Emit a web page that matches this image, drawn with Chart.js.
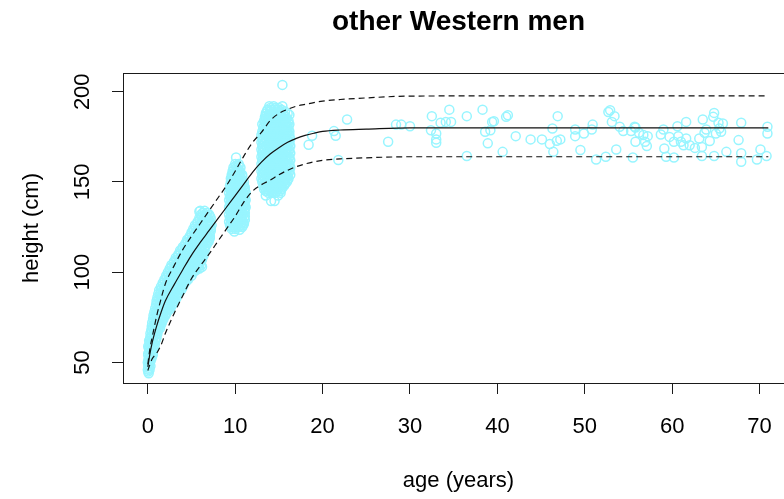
<!DOCTYPE html>
<html>
<head>
<meta charset="utf-8">
<title>other Western men</title>
<script src="https://cdn.jsdelivr.net/npm/chart.js@4.4.0/dist/chart.umd.min.js"></script>
<style>
  html, body { margin: 0; padding: 0; overflow: hidden; background: #fff; }
</style>
</head>
<body>
<canvas id="growthChart" width="800" height="499"></canvas>
<script>
const ageTicks = [0, 10, 20, 30, 40, 50, 60, 70];
const heightTicks = [50, 100, 150, 200];

// reference curves (median and the two dashed limits)
const curveAges = [0, 0.25, 0.5, 1, 1.5, 2, 3, 4, 5, 6, 7, 8, 9, 10, 11, 12, 13, 14, 15, 16, 17, 18, 19, 20, 22, 25, 30, 40, 50, 60, 71];
const medianHeights = [47.5, 55, 61, 70, 77.5, 84, 93, 101.4, 109.5, 116.5, 123, 129.5, 136, 142.5, 149, 155.5, 161, 165.5, 169, 172, 174.2, 175.8, 177, 178, 178.8, 179.3, 180, 180, 180, 180, 180];
const upperHeights = [49, 58, 64, 75.5, 85, 93.5, 103.5, 112.5, 120, 127, 134, 141, 148, 156, 164.5, 172, 177.5, 184, 188, 190.3, 192, 193, 194, 194.8, 195.7, 196.6, 197.6, 197.7, 197.7, 197.7, 197.7];
const lowerHeights = [45.5, 49, 52, 55, 59.5, 66, 77, 87, 96.5, 103.5, 110, 117, 124, 131, 139, 145, 148.5, 151, 154, 156.5, 158.5, 160, 161.2, 162, 162.8, 163.4, 164, 164, 164, 164, 164];

// observations, grouped by height (cm) with the ages (years) seen at it
const infantRows = [
  [44, [0.1]], [45, [0.05]], [46, [0.0, 0.2]], [47, [0.15]], [48, [0.05, 0.3]], [49, [0.15]],
  [50, [0.0, 0.25]], [51, [0.05, 0.3]], [52, [0.1, 0.4]], [53, [0.2, 0.45]], [54, [0.05, 0.35, 0.55]],
  [55, [0.05, 0.3, 0.55]], [56, [0.15, 0.45]], [57, [0.25, 0.6]], [58, [0.1, 0.4, 0.7]], [59, [0.05, 0.3, 0.65]],
  [60, [0.2, 0.5, 0.8]], [61, [0.3, 0.65]], [62, [0.15, 0.45, 0.85]], [63, [0.25, 0.6, 0.95]],
  [64, [0.3, 0.65, 1.0]], [65, [0.45, 0.85]], [66, [0.3, 0.7, 1.1]], [67, [0.5, 0.95]], [68, [0.4, 0.8, 1.2]],
  [69, [0.6, 1.0, 1.4]], [70, [0.45, 0.9, 1.35]], [71, [0.7, 1.15, 1.5]], [72, [0.5, 0.95, 1.4, 1.6]],
  [73, [0.75, 1.2, 1.65]], [74, [0.6, 1.0, 1.5, 1.8]], [75, [0.85, 1.3, 1.75]], [76, [0.65, 1.1, 1.6, 2.0]],
  [77, [0.9, 1.35, 1.8, 2.1]], [78, [0.75, 1.2, 1.7, 2.2]], [79, [1.0, 1.45, 1.95, 2.4]],
  [80, [0.85, 1.3, 1.8, 2.3, 2.6]], [81, [1.1, 1.55, 2.05, 2.5]], [82, [0.95, 1.4, 1.9, 2.4, 2.8]],
  [83, [1.2, 1.65, 2.15, 2.6, 3.0]], [84, [1.0, 1.5, 2.0, 2.5, 3.0]], [85, [1.3, 1.8, 2.3, 2.8, 3.2]],
  [86, [1.1, 1.55, 2.05, 2.55, 3.0, 3.3]], [87, [1.4, 1.9, 2.4, 2.9, 3.35]],
  [88, [1.2, 1.7, 2.2, 2.7, 3.2, 3.5]], [89, [1.5, 2.0, 2.5, 3.0, 3.5]],
  [90, [1.3, 1.8, 2.3, 2.8, 3.3, 3.8]], [91, [1.6, 2.1, 2.6, 3.1, 3.6, 3.9]],
  [92, [1.5, 2.0, 2.5, 3.0, 3.5, 4.0]], [93, [1.75, 2.25, 2.75, 3.25, 3.75, 4.1]],
  [94, [1.7, 2.2, 2.7, 3.2, 3.7, 4.2]], [95, [1.95, 2.45, 2.95, 3.45, 3.95, 4.4]],
  [96, [1.9, 2.4, 2.9, 3.4, 3.9, 4.4, 4.6]], [97, [2.15, 2.65, 3.15, 3.65, 4.15, 4.6]],
  [98, [2.1, 2.6, 3.1, 3.6, 4.1, 4.6, 5.0]], [99, [2.35, 2.85, 3.35, 3.85, 4.35, 4.85]],
  [100, [2.3, 2.8, 3.3, 3.8, 4.3, 4.8, 5.2]], [101, [2.55, 3.05, 3.55, 4.05, 4.55, 5.05, 5.5]],
  [102, [2.5, 3.0, 3.5, 4.0, 4.5, 5.0, 5.5, 5.9]], [103, [2.75, 3.25, 3.75, 4.25, 4.75, 5.25, 5.75, 6.2]],
  [104, [2.7, 3.2, 3.7, 4.2, 4.7, 5.2, 5.7, 6.1]], [105, [2.95, 3.45, 3.95, 4.45, 4.95, 5.45, 5.95]],
  [106, [3.0, 3.5, 4.0, 4.5, 5.0, 5.5, 6.0]], [107, [3.25, 3.75, 4.25, 4.75, 5.25, 5.75, 6.2]],
  [108, [3.2, 3.7, 4.2, 4.7, 5.2, 5.7, 6.2]], [109, [3.45, 3.95, 4.45, 4.95, 5.45, 5.95, 6.35]],
  [110, [3.5, 4.0, 4.5, 5.0, 5.5, 6.0, 6.4]], [111, [3.75, 4.25, 4.75, 5.25, 5.75, 6.25]],
  [112, [3.7, 4.2, 4.7, 5.2, 5.7, 6.2, 6.5]], [113, [3.95, 4.45, 4.95, 5.45, 5.95, 6.45]],
  [114, [4.0, 4.5, 5.0, 5.5, 6.0, 6.5]], [115, [4.25, 4.75, 5.25, 5.75, 6.25, 6.7]],
  [116, [4.3, 4.8, 5.3, 5.8, 6.3, 6.8]], [117, [4.55, 5.05, 5.55, 6.05, 6.55, 6.95]],
  [118, [4.5, 5.0, 5.5, 6.0, 6.5, 7.0]], [119, [4.75, 5.25, 5.75, 6.25, 6.75, 7.1]],
  [120, [4.8, 5.3, 5.8, 6.3, 6.8, 7.1]], [121, [5.05, 5.55, 6.05, 6.55, 7.05]],
  [122, [5.0, 5.5, 6.0, 6.5, 7.0]], [123, [5.25, 5.75, 6.25, 6.75, 7.2]],
  [124, [5.2, 5.7, 6.2, 6.7, 7.2]], [125, [5.45, 5.95, 6.45, 6.95]],
  [126, [5.4, 5.9, 6.4, 6.9, 7.3]], [127, [5.65, 6.15, 6.65, 7.15]],
  [128, [5.7, 6.2, 6.7, 7.1]], [129, [5.95, 6.45, 6.95]], [130, [5.9, 6.4, 6.9, 7.2]],
  [131, [6.15, 6.65, 7.1]], [132, [6.1, 6.6, 7.0]], [133, [6.3, 6.8]], [133.6, [5.9]], [134, [6.0, 6.5]]
];
const childRows = [
  [122.5, [9.9]], [123.5, [10.5]], [124, [9.6, 10.0]], [125, [9.6, 10.0, 10.4, 10.8]],
  [126, [9.4, 9.8, 10.2, 10.6, 10.9]], [127, [9.5, 9.9, 10.3, 10.7, 11.0]],
  [128, [9.3, 9.7, 10.1, 10.5, 10.9]], [129, [9.5, 9.9, 10.3, 10.7, 11.1]],
  [130, [9.4, 9.8, 10.2, 10.6, 11.0]], [131, [9.5, 9.9, 10.3, 10.7, 11.1]],
  [132, [9.3, 9.7, 10.1, 10.5, 10.9]], [133, [9.5, 9.9, 10.3, 10.7, 11.1]],
  [134, [9.4, 9.8, 10.2, 10.6, 11.0]], [135, [9.5, 9.9, 10.3, 10.7, 11.1]],
  [136, [9.3, 9.7, 10.1, 10.5, 10.9, 11.2]], [137, [9.5, 9.9, 10.3, 10.7, 11.1]],
  [138, [9.4, 9.8, 10.2, 10.6, 11.0]], [139, [9.5, 9.9, 10.3, 10.7, 11.1]],
  [140, [9.3, 9.7, 10.1, 10.5, 10.9, 11.2]], [141, [9.5, 9.9, 10.3, 10.7, 11.1]],
  [142, [9.4, 9.8, 10.2, 10.6, 11.0]], [143, [9.5, 9.9, 10.3, 10.7, 11.1]],
  [144, [9.3, 9.7, 10.1, 10.5, 10.9, 11.2]], [145, [9.5, 9.9, 10.3, 10.7, 11.1]],
  [146, [9.4, 9.8, 10.2, 10.6, 11.0]], [147, [9.5, 9.9, 10.3, 10.7, 11.1]],
  [148, [9.4, 9.8, 10.2, 10.6, 11.0]], [149, [9.6, 10.0, 10.4, 10.8]],
  [150, [9.5, 9.9, 10.3, 10.7, 11.0]], [151, [9.6, 10.0, 10.4, 10.8]],
  [152, [9.5, 9.9, 10.3, 10.7]], [153, [9.7, 10.1, 10.5, 10.8]],
  [154, [9.6, 10.0, 10.4, 10.8]], [155, [9.8, 10.2, 10.6]], [156, [9.7, 10.1, 10.5]],
  [157, [9.9, 10.3]], [158, [9.8, 10.2, 10.6]], [159, [10.1, 10.4]],
  [160, [10.0, 10.4]], [163.6, [10.1]]
];
const teenRows = [
  [139.5, [14.1, 14.5]], [142.5, [13.5, 14.9]], [144, [13.8, 14.2, 14.6, 15.2]],
  [145, [13.5, 13.9, 14.3, 14.7, 15.1]],
  [146, [13.3, 13.7, 14.1, 14.5, 14.9, 15.3]], [147, [13.4, 13.8, 14.2, 14.6, 15.0, 15.4]],
  [148, [13.2, 13.6, 14.0, 14.4, 14.8, 15.2, 15.6]], [149, [13.3, 13.7, 14.1, 14.5, 14.9, 15.3, 15.7]],
  [150, [13.1, 13.5, 13.9, 14.3, 14.7, 15.1, 15.5, 15.9]], [151, [13.2, 13.6, 14.0, 14.4, 14.8, 15.2, 15.6, 16.0]],
  [152, [13.0, 13.4, 13.8, 14.2, 14.6, 15.0, 15.4, 15.8, 16.1]], [153, [13.2, 13.6, 14.0, 14.4, 14.8, 15.2, 15.6, 16.0]],
  [154, [13.1, 13.5, 13.9, 14.3, 14.7, 15.1, 15.5, 15.9, 16.3]], [155, [13.2, 13.7, 14.1, 14.5, 14.9, 15.3, 15.7, 16.1]],
  [156, [13.0, 13.4, 13.8, 14.2, 14.6, 15.0, 15.4, 15.8, 16.2]], [157, [13.2, 13.6, 14.0, 14.4, 14.8, 15.2, 15.6, 16.0]],
  [158, [13.1, 13.5, 13.9, 14.3, 14.7, 15.1, 15.5, 15.9, 16.3]], [159, [13.2, 13.7, 14.1, 14.5, 14.9, 15.3, 15.7, 16.1]],
  [160, [13.0, 13.4, 13.8, 14.2, 14.6, 15.0, 15.4, 15.8, 16.2]], [161, [13.2, 13.6, 14.0, 14.4, 14.8, 15.2, 15.6, 16.0]],
  [162, [13.1, 13.5, 13.9, 14.3, 14.7, 15.1, 15.5, 15.9, 16.3]], [163, [13.2, 13.7, 14.1, 14.5, 14.9, 15.3, 15.7, 16.1]],
  [164, [13.0, 13.4, 13.8, 14.2, 14.6, 15.0, 15.4, 15.8, 16.2]], [165, [13.2, 13.6, 14.0, 14.4, 14.8, 15.2, 15.6, 16.0]],
  [166, [13.1, 13.5, 13.9, 14.3, 14.7, 15.1, 15.5, 15.9, 16.3]], [167, [13.2, 13.7, 14.1, 14.5, 14.9, 15.3, 15.7, 16.1]],
  [168, [13.0, 13.4, 13.8, 14.2, 14.6, 15.0, 15.4, 15.8, 16.2]], [169, [13.2, 13.6, 14.0, 14.4, 14.8, 15.2, 15.6, 16.0]],
  [170, [13.1, 13.5, 13.9, 14.3, 14.7, 15.1, 15.5, 15.9, 16.3]], [171, [13.2, 13.7, 14.1, 14.5, 14.9, 15.3, 15.7, 16.1]],
  [172, [13.0, 13.4, 13.8, 14.2, 14.6, 15.0, 15.4, 15.8, 16.2]], [173, [13.2, 13.6, 14.0, 14.4, 14.8, 15.2, 15.6, 16.0]],
  [174, [13.1, 13.5, 13.9, 14.3, 14.7, 15.1, 15.5, 15.9, 16.3]], [175, [13.2, 13.7, 14.1, 14.5, 14.9, 15.3, 15.7, 16.1]],
  [176, [13.0, 13.4, 13.8, 14.2, 14.6, 15.0, 15.4, 15.8, 16.2]], [177, [13.2, 13.6, 14.0, 14.4, 14.8, 15.2, 15.6, 16.0]],
  [178, [13.1, 13.5, 13.9, 14.3, 14.7, 15.1, 15.5, 15.9, 16.2]], [179, [13.3, 13.7, 14.1, 14.5, 14.9, 15.3, 15.7, 16.1]],
  [180, [13.2, 13.6, 14.0, 14.4, 14.8, 15.2, 15.6, 16.0]], [181, [13.3, 13.7, 14.1, 14.5, 14.9, 15.3, 15.7, 16.1]],
  [182, [13.1, 13.5, 13.9, 14.3, 14.7, 15.1, 15.5, 15.9, 16.2]], [183, [13.4, 13.8, 14.2, 14.6, 15.0, 15.4, 15.8]],
  [184, [13.3, 13.7, 14.1, 14.5, 14.9, 15.3, 15.7, 16.1]], [185, [13.5, 13.9, 14.3, 14.7, 15.1, 15.5, 15.9]],
  [186, [13.4, 13.8, 14.2, 14.6, 15.0, 15.4, 15.8]], [187, [13.6, 14.0, 14.4, 14.8, 15.2, 15.6]],
  [188, [13.5, 13.9, 14.3, 14.7, 15.1, 15.5, 16.0]], [189, [13.6, 14.0, 14.4, 14.8, 15.2, 15.7]],
  [190, [13.7, 14.1, 14.5, 14.9, 15.3]], [191, [14.0, 14.6, 15.0]], [192, [13.9, 14.4, 15.4]], [203.8, [15.4]]
];
const adultAges = [18.8, 18.4, 22.8, 21.3, 21.5, 21.8, 27.5, 28.4, 29.0, 30.0, 32.5, 32.4, 33.0, 33.0, 33.0, 33.5, 34.1, 34.5, 34.7,
  36.5, 36.5, 38.3, 38.6, 39.2, 39.4, 39.6, 38.9, 41.0, 41.2, 40.6, 42.1, 43.8, 45.1, 46.0, 46.4, 46.9, 46.3, 46.8, 47.2,
  48.9, 48.9, 49.5, 49.9, 50.8, 50.9, 51.3, 52.4, 52.7, 53.4, 53.1, 53.6, 54.0, 54.4, 55.3, 55.5, 55.8, 55.8, 56.2, 56.7,
  56.9, 57.1, 57.2, 58.7, 59.0, 59.1, 59.3, 60.2, 60.6, 60.7, 60.2, 61.6, 61.6, 61.3, 62.0, 62.6, 63.1, 63.4, 63.5, 63.4,
  63.7, 63.9, 64.3, 64.7, 64.8, 64.8, 65.0, 65.4, 65.3, 65.8, 65.6, 66.2, 67.6, 67.9, 67.9, 67.9, 69.7, 70.1, 70.9, 70.9, 70.8,
  52.9, 55.7, 59.7, 61.0, 16.2];
const adultHeights = [175.6, 170.6, 184.6, 178.2, 175.6, 162.2, 172.3, 181.8, 181.8, 180.9, 186.5, 178.7, 176.9, 173.6, 171.7, 182.8, 183.3, 190.1, 183.3,
  186.5, 164.4, 190.1, 177.8, 178.7, 183.3, 183.7, 171.4, 186.1, 187.0, 166.7, 175.4, 173.6, 173.6, 171.0, 166.7, 186.5, 179.6, 172.8, 173.6,
  179.1, 175.4, 167.7, 176.9, 179.1, 181.8, 162.5, 164.0, 188.8, 186.5, 183.3, 168.0, 180.6, 178.2, 178.2, 163.6, 180.2, 172.3, 177.3, 176.0,
  172.3, 169.9, 175.4, 176.3, 179.1, 168.6, 164.0, 163.6, 180.9, 175.4, 172.3, 183.3, 174.1, 170.4, 170.4, 168.9, 174.1, 164.4, 184.6, 169.4,
  177.3, 179.1, 172.7, 186.1, 188.3, 164.4, 176.9, 179.6, 182.8, 182.4, 177.8, 166.7, 173.2, 182.8, 165.9, 161.2, 162.5, 168.0, 180.6, 176.9, 164.4,
  189.8, 180.6, 175.0, 172.3, 187.2];

const fromRows = rows => rows.flatMap(([h, ages]) => ages.map(a => ({ x: a, y: h })));
const observations = [
  ...fromRows(infantRows), ...fromRows(childRows), ...fromRows(teenRows),
  ...adultAges.map((a, i) => ({ x: a, y: adultHeights[i] }))
];
const curve = hs => curveAges.map((a, i) => ({ x: a, y: hs[i] }));

const font = 'Liberation Sans, Arial, sans-serif';

const plotBox = {
  id: 'plotBox',
  afterDraw(chart) {
    const { ctx, chartArea: a } = chart;
    ctx.save();
    ctx.strokeStyle = '#1a1a1a';
    ctx.lineWidth = 1;
    ctx.strokeRect(a.left + 0.5, a.top + 0.5, a.right - a.left, a.bottom - a.top);
    ctx.restore();
  }
};

const lineStyle = { showLine: true, pointRadius: 0, borderColor: '#111', borderWidth: 1.2, cubicInterpolationMode: 'monotone', fill: false };

new Chart(document.getElementById('growthChart'), {
  type: 'scatter',
  data: {
    datasets: [
      { label: 'median', data: curve(medianHeights), ...lineStyle },
      { label: 'upper', data: curve(upperHeights), ...lineStyle, borderDash: [6, 4] },
      { label: 'lower', data: curve(lowerHeights), ...lineStyle, borderDash: [6, 4] },
      {
        label: 'height', data: observations,
        pointStyle: 'circle', pointRadius: 4.5, pointBorderWidth: 1.5,
        pointBorderColor: '#98F5FF', pointBackgroundColor: 'rgba(0,0,0,0)'
      }
    ]
  },
  options: {
    responsive: false,
    animation: false,
    layout: { padding: { left: 0, right: 4, top: 0, bottom: 0 } },
    plugins: {
      legend: { display: false },
      tooltip: { enabled: false },
      title: {
        display: true, fullSize: false, text: 'other Western men', color: '#000',
        font: { family: font, size: 28, weight: 'bold' }, padding: { top: 5, bottom: 34.4 }
      }
    },
    scales: {
      x: {
        type: 'linear', min: -2.84, max: 73.94,
        afterBuildTicks: s => { s.ticks = ageTicks.map(v => ({ value: v })); },
        afterFit: s => { s.height = 116; },
        border: { display: false },
        grid: { drawOnChartArea: false, drawTicks: true, tickLength: 11, color: '#1a1a1a', lineWidth: 1 },
        ticks: { color: '#000', font: { family: font, size: 22 }, padding: 20, maxRotation: 0, autoSkip: false },
        title: { display: true, text: 'age (years)', color: '#000', font: { family: font, size: 22 }, padding: { top: 0, bottom: 5 } }
      },
      y: {
        type: 'linear', min: 38.6, max: 210.4,
        afterBuildTicks: s => { s.ticks = heightTicks.map(v => ({ value: v })); },
        afterFit: s => { s.width = 123; },
        border: { display: false },
        grid: { drawOnChartArea: false, drawTicks: true, tickLength: 11, color: '#1a1a1a', lineWidth: 1 },
        ticks: { color: '#000', font: { family: font, size: 22 }, padding: 10.5, minRotation: 90, maxRotation: 90, crossAlign: 'center', autoSkip: false },
        title: { display: true, text: 'height (cm)', color: '#000', font: { family: font, size: 22 }, padding: { top: 18.5, bottom: 0 } }
      }
    }
  },
  plugins: [plotBox]
});
</script>
</body>
</html>
